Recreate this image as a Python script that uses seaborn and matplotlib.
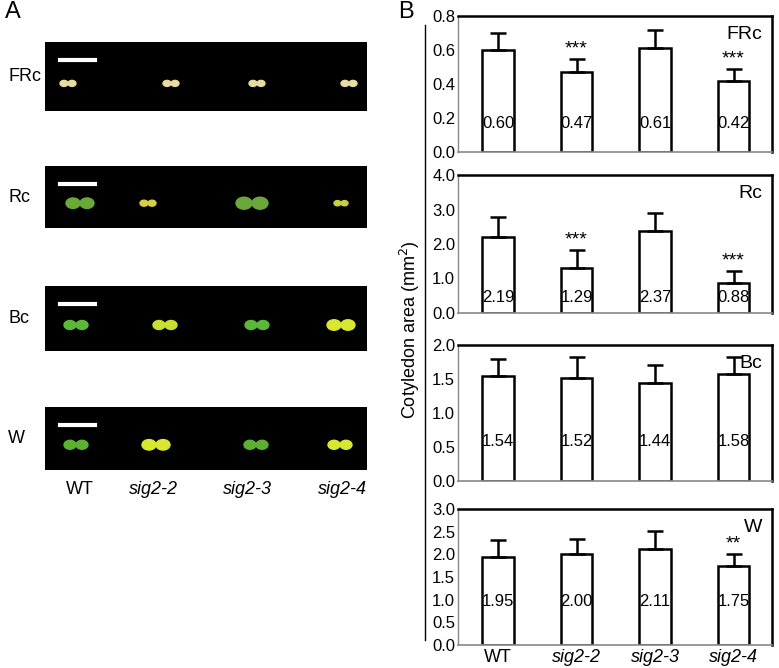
import matplotlib
matplotlib.use("Agg")
import matplotlib.pyplot as plt
from matplotlib.patches import Ellipse
import seaborn as sns
import pandas as pd

genotypes = ["WT", "sig2-2", "sig2-3", "sig2-4"]
conditions = ["FRc", "Rc", "Bc", "W"]
frc_mean = [0.60, 0.47, 0.61, 0.42]
frc_err = [0.10, 0.08, 0.11, 0.07]
rc_mean = [2.19, 1.29, 2.37, 0.88]
rc_err = [0.58, 0.53, 0.53, 0.34]
bc_mean = [1.54, 1.52, 1.44, 1.58]
bc_err = [0.26, 0.30, 0.27, 0.24]
w_mean = [1.95, 2.00, 2.11, 1.75]
w_err = [0.37, 0.34, 0.40, 0.26]
stars = {"FRc": ["", "***", "", "***"], "Rc": ["", "***", "", "***"],
         "Bc": ["", "", "", ""], "W": ["", "", "", "**"]}
yticks = {"FRc": [0.0, 0.2, 0.4, 0.6, 0.8], "Rc": [0.0, 1.0, 2.0, 3.0, 4.0],
          "Bc": [0.0, 0.5, 1.0, 1.5, 2.0], "W": [0.0, 0.5, 1.0, 1.5, 2.0, 2.5, 3.0]}
means = {"FRc": frc_mean, "Rc": rc_mean, "Bc": bc_mean, "W": w_mean}
errs = {"FRc": frc_err, "Rc": rc_err, "Bc": bc_err, "W": w_err}

W, H = 779, 668
fig = plt.figure(figsize=(W / 100, H / 100), dpi=100)
plt.rcParams["font.family"] = "Liberation Sans"

def ax_px(x0, y0, x1, y1):
    return fig.add_axes([x0 / W, 1 - y1 / H, (x1 - x0) / W, (y1 - y0) / H])

# Panel B
boxes = {"FRc": (16, 152), "Rc": (175, 313), "Bc": (345, 481), "W": (509, 645)}
for cond in conditions:
    y0, y1 = boxes[cond]
    ax = ax_px(458, y0, 772, y1)
    df = pd.DataFrame({"g": genotypes, "v": means[cond]})
    sns.barplot(data=df, x="g", y="v", ax=ax, color="white", edgecolor="black",
                linewidth=1.8, width=0.4, saturation=1)
    ax.errorbar(range(4), means[cond], yerr=[[0] * 4, errs[cond]], fmt="none",
                ecolor="black", elinewidth=1.8, capsize=6, capthick=1.8)
    top = yticks[cond][-1]
    for i, (m, e) in enumerate(zip(means[cond], errs[cond])):
        vpos = {"FRc": 0.17, "Rc": 0.45, "Bc": 0.58, "W": 0.95}[cond]
        ax.text(i, vpos, f"{m:.2f}", ha="center", va="center", fontsize=12)
        if stars[cond][i]:
            ax.text(i, m + e + 0.01 * top, stars[cond][i], ha="center", va="bottom", fontsize=14)
    ax.set_xlim(-0.51, 3.49)
    ax.set_ylim(0, top)
    ax.set_yticks(yticks[cond])
    ax.set_yticklabels([f"{t:.1f}" for t in yticks[cond]], fontsize=12)
    ax.tick_params(axis="y", length=0, pad=2)
    ax.set_xlabel("")
    ax.set_ylabel("")
    for s in ax.spines.values():
        s.set_linewidth(1.8)
    ax.spines["left"].set_color("#888888")
    ax.spines["left"].set_linewidth(1)
    ax.spines["bottom"].set_color("#888888")
    ax.spines["bottom"].set_linewidth(1.2)
    if cond == "W":
        ax.set_xticks(range(4))
        ax.set_xticklabels(genotypes, fontsize=13)
        for lab in ax.get_xticklabels()[1:]:
            lab.set_style("italic")
        ax.tick_params(axis="x", length=0, pad=3)
    else:
        ax.set_xticks([])
    ax.text(0.97, 0.93, cond, transform=ax.transAxes, ha="right", va="top", fontsize=14)

fig.text(410 / W, 1 - 330 / H, "Cotyledon area (mm$^2$)", rotation=90, ha="center",
         va="center", fontsize=13)
fig.add_artist(plt.Line2D([425 / W, 425 / W], [1 - 25 / H, 1 - 640 / H], color="black", lw=1))
fig.text(5 / W, 1 - 12 / H, "A", fontsize=17, va="center")
fig.text(398 / W, 1 - 12 / H, "B", fontsize=17, va="center")

# Panel A: schematic seedling strips
strips = {"FRc": (42, 111), "Rc": (166, 228), "Bc": (286, 351), "W": (407, 470)}
seed_x = {"FRc": [68, 171, 257, 349], "Rc": [80, 148, 252, 341],
          "Bc": [76, 165, 257, 341], "W": [76, 156, 256, 340]}
colors = {"FRc": ["#e8dca0"] * 4, "Rc": ["#6aa83a", "#d8d040", "#6aa83a", "#c8d040"],
          "Bc": ["#5cb838", "#c8e030", "#5cb838", "#d8e830"],
          "W": ["#5cb030", "#d8e830", "#5cb030", "#d8e830"]}
size = {"FRc": [4, 4, 4, 4], "Rc": [7, 4, 8, 3.5], "Bc": [6, 6, 6, 7], "W": [6, 7, 6, 6]}
for cond in conditions:
    y0, y1 = strips[cond]
    ax = ax_px(45, y0, 367, y1)
    ax.set_facecolor("black")
    ax.set_xlim(45, 367)
    ax.set_ylim(y1, y0)
    ax.set_xticks([]); ax.set_yticks([])
    for s in ax.spines.values():
        s.set_visible(False)
    ax.plot([60, 95], [y0 + 18, y0 + 18], color="white", lw=3)
    yc = y0 + (y1 - y0) * 0.6
    for x, c, r in zip(seed_x[cond], colors[cond], size[cond]):
        ax.add_patch(Ellipse((x - r, yc), 2 * r, 1.5 * r, color=c))
        ax.add_patch(Ellipse((x + r, yc), 2 * r, 1.5 * r, color=c))
    fig.text(8 / W, 1 - ((y0 + y1) / 2) / H, cond, fontsize=13, va="center")

for x, g in zip([80, 153, 247, 342], genotypes):
    fig.text(x / W, 1 - 490 / H, g, fontsize=13, ha="center", va="center",
             style="normal" if g == "WT" else "italic")

fig.savefig("out.png", dpi=100)
